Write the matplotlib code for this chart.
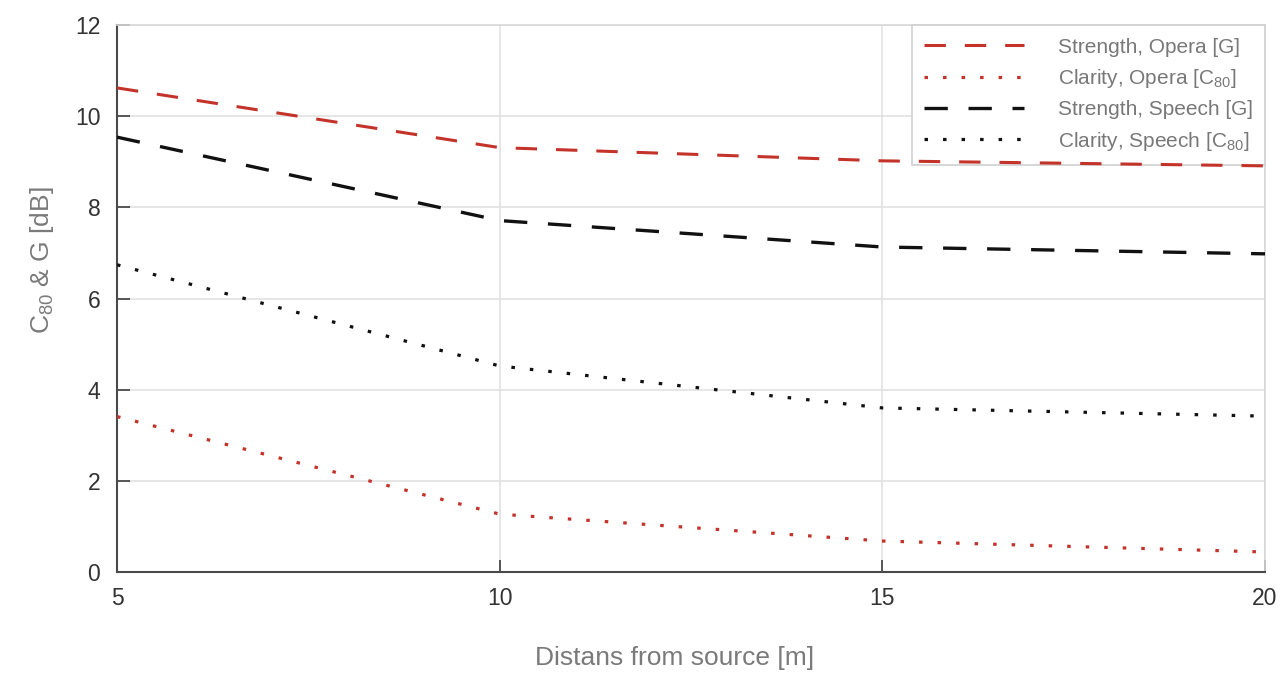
import matplotlib
matplotlib.use("Agg")
import matplotlib.pyplot as plt

plt.rcParams["font.family"] = ["Liberation Sans", "DejaVu Sans"]
plt.rcParams["mathtext.default"] = "regular"

# distance from source [m]
distance = [5, 10, 15, 20]

# values [dB]
strength_opera = [10.62, 9.31, 9.02, 8.91]
clarity_opera = [3.41, 1.27, 0.68, 0.44]
strength_speech = [9.54, 7.71, 7.13, 6.98]
clarity_speech = [6.74, 4.52, 3.60, 3.42]

RED = "#c4332a"
BLACK = "#111111"
DASH = (0, (7.0, 6.2))
DOT = (0, (1.1, 4.7))

fig = plt.figure(figsize=(12.83, 6.74), dpi=100)
ax = fig.add_axes([0.0912, 0.1513, 0.8948, 0.8116])

ax.plot(distance, strength_opera, color=RED, lw=2.2, linestyle=DASH,
        label="Strength, Opera [G]", zorder=4)
ax.plot(distance, clarity_opera, color=RED, lw=2.3, linestyle=DOT,
        label="Clarity, Opera [C$_{80}$]", zorder=4)
ax.plot(distance, strength_speech, color=BLACK, lw=2.4, linestyle=DASH,
        label="Strength, Speech [G]", zorder=4)
ax.plot(distance, clarity_speech, color=BLACK, lw=2.3, linestyle=DOT,
        label="Clarity, Speech [C$_{80}$]", zorder=4)

ax.set_xlim(5, 20)
ax.set_ylim(0, 12)
ax.set_xticks([5, 10, 15, 20])
ax.set_yticks(range(0, 13, 2))

ax.grid(True, color="#e2e2e2", linewidth=1.2)
ax.set_axisbelow(True)
for side in ("top", "right"):
    ax.spines[side].set_color("#d8d8d8")
    ax.spines[side].set_linewidth(1.2)
for side in ("left", "bottom"):
    ax.spines[side].set_color("#4a4a4a")
    ax.spines[side].set_linewidth(1.5)

ax.tick_params(axis="both", direction="in", length=9, width=1.3,
               color="#4a4a4a", labelsize=16.5, labelcolor="#333333")
ax.tick_params(axis="y", pad=12)
ax.tick_params(axis="x", pad=11)

ax.set_xlabel("Distans from source [m]", fontsize=19, color="#7a7a7a")
ax.xaxis.set_label_coords(0.486, -0.135)
ax.set_ylabel("C$_{80}$ & G [dB]", fontsize=19, color="#7a7a7a")
ax.yaxis.set_label_coords(-0.053, 0.57)

leg = ax.legend(loc="upper right", bbox_to_anchor=(1.0, 1.0),
                borderaxespad=0, fontsize=15, handlelength=4.8,
                handletextpad=1.6, labelspacing=0.5, borderpad=0.6,
                fancybox=False, framealpha=1.0)
leg.set_zorder(3)
leg.get_frame().set_edgecolor("#d0d0d0")
leg.get_frame().set_linewidth(1.2)
for t in leg.get_texts():
    t.set_color("#787878")

fig.savefig("out.png", dpi=100)
